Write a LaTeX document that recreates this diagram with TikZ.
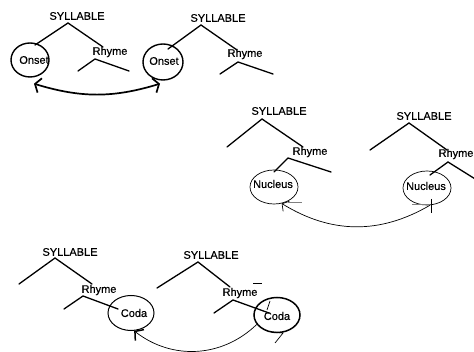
\documentclass[tikz,border=0pt]{standalone}
\usepackage{fontspec}
\setmainfont{Liberation Sans}
\newfontfamily\labelfont[FakeBold=0.5]{Liberation Sans}
\usetikzlibrary{shapes.geometric,arrows.meta}
\begin{document}
\begin{tikzpicture}[x=1pt,y=-1pt,
  lbl/.style={inner sep=0pt, font=\labelfont\fontsize{11}{13}\selectfont},
  branch/.style={line width=1.3pt, line cap=round},
  ring/.style={draw, ellipse, inner sep=0pt},
  onsetring/.style={ring, line width=1.4pt, minimum width=38pt, minimum height=34pt},
  nucring/.style={ring, line width=0.7pt, minimum width=48pt, minimum height=34pt},
  codaring/.style={ring, minimum width=46pt, minimum height=35pt},
  swaparrow/.style={line width=1.7pt, {Straight Barb[length=5pt,width=15pt]}-{Straight Barb[length=5pt,width=15pt]}},
  movearrow/.style={line width=0.7pt, -{Straight Barb[length=5pt,width=12pt]}},
  tickline/.style={line width=0.7pt}]
\useasboundingbox (0,0) rectangle (474,352);

% ---- two syllables: onsets swapped ----
\node[lbl] (syl1) at (77,16) {SYLLABLE};
\coordinate (top1) at (68,23);
\coordinate (tl1) at (35,45);
\coordinate (tr1) at (103,47);
\node[onsetring] (on1) at (30,60) {};
\node[lbl] (ont1) at (34,60) {Onset};
\node[lbl] (rh1) at (110,52) {Rhyme};
\coordinate (ra1) at (95,59);
\coordinate (rl1) at (78,71);
\coordinate (rr1) at (129,71);
\draw[branch] (tl1) -- (top1) -- (tr1);
\draw[branch] (rl1) -- (ra1) -- (rr1);

\node[lbl] (syl2) at (218,18) {SYLLABLE};
\coordinate (top2) at (201,25);
\coordinate (tl2) at (168,49);
\coordinate (tr2) at (237,50);
\node[onsetring, minimum width=40pt, minimum height=36pt] (on2) at (163,62) {};
\node[lbl] (ont2) at (164,61) {Onset};
\node[lbl] (rh2) at (245,54) {Rhyme};
\coordinate (ra2) at (238,62);
\coordinate (rl2) at (220,74);
\coordinate (rr2) at (273,74);
\draw[branch] (tl2) -- (top2) -- (tr2);
\draw[branch] (rl2) -- (ra2) -- (rr2);

\draw[swaparrow] ([xshift=4pt,yshift=-6pt]on1.south) to[bend right=17] ([xshift=-3pt,yshift=-3pt]on2.south);

% ---- two syllables: nucleus moved ----
\node[lbl] (syl3) at (279,111) {SYLLABLE};
\coordinate (top3) at (262,119);
\coordinate (tl3) at (227,147);
\coordinate (tr3) at (303,147);
\node[lbl] (rh3) at (310,152) {Rhyme};
\coordinate (ra3) at (288,158);
\coordinate (rl3) at (274,172);
\coordinate (rr3) at (331,172);
\node[nucring] (nuc1) at (274,187) {};
\node[lbl] (nut1) at (273,184) {Nucleus};
\draw[branch] (tl3) -- (top3) -- (tr3);
\draw[branch] (rl3) -- (ra3) -- (rr3);

\node[lbl] (syl4) at (424,116) {SYLLABLE};
\coordinate (top4) at (409,123);
\coordinate (tl4) at (370,150);
\coordinate (tr4) at (447,150);
\node[lbl] (rh4) at (456,154) {Rhyme};
\coordinate (ra4) at (448,162);
\coordinate (rl4) at (430,175);
\coordinate (rr4) at (480,182);
\node[nucring] (nuc2) at (427,188) {};
\node[lbl] (nut2) at (426,186) {Nucleus};
\draw[branch] (tl4) -- (top4) -- (tr4);
\draw[branch] (rl4) -- (ra4) -- (rr4);

\draw[movearrow] (nuc2.-80) to[bend left=31] (nuc1.-65);
\draw[tickline, gray] (288,202) -- (302,202);
\draw[tickline, gray] (412,204) -- (430,204);
\draw[tickline] (431,199) -- (431,213);

% ---- two syllables: coda moved ----
\node[lbl] (syl5) at (70,252) {SYLLABLE};
\coordinate (top5) at (55,258);
\coordinate (tl5) at (19,284);
\coordinate (tr5) at (92,284);
\node[lbl] (rh5) at (99,290) {Rhyme};
\coordinate (ra5) at (83,296);
\coordinate (rl5) at (64,309);
\coordinate (rr5) at (118,309);
\node[codaring, line width=1pt] (coda1) at (131,313) {};
\node[lbl] (cot1) at (134,313) {Coda};
\draw[branch] (tl5) -- (top5) -- (tr5);
\draw[branch] (rl5) -- (ra5) -- (rr5);

\node[lbl] (syl6) at (211,255) {SYLLABLE};
\coordinate (top6) at (198,262);
\coordinate (tl6) at (157,288);
\coordinate (tr6) at (230,287);
\node[lbl] (rh6) at (240,293) {Rhyme};
\coordinate (ra6) at (233,300);
\coordinate (rl6) at (214,313);
\coordinate (rr6) at (269,313);
\node[codaring, line width=1.5pt] (coda2) at (277,315) {};
\node[lbl] (cot2) at (277,316) {Coda};
\draw[branch] (tl6) -- (top6) -- (tr6);
\draw[branch] (rl6) -- (ra6) -- (rr6);
\draw[tickline] (253,283) -- (262,283);
\draw[tickline] (270,301) -- (267,310);

\draw[movearrow, -{Straight Barb[length=6pt,width=14pt,line width=1.5pt]}] (coda2.-155) to[bend left=41] (coda1.-80);
\draw[tickline] (272,332) -- (283,333) -- (275,343);
\end{tikzpicture}
\end{document}
